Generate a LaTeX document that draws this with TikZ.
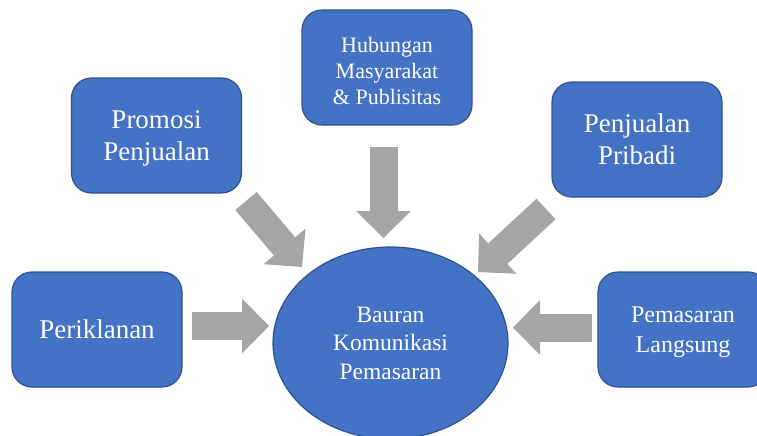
\documentclass[tikz,border=0pt]{standalone}
\usepackage{fontspec}
\setmainfont{Liberation Serif}
\usetikzlibrary{shapes.geometric,arrows.meta}
\definecolor{boxblue}{HTML}{4472C4}
\definecolor{boxedge}{HTML}{2F528F}
\definecolor{flowgray}{HTML}{A5A5A5}

\begin{document}
\begin{tikzpicture}[x=1pt, y=-1pt,
                    tool/.style={draw=boxedge, line width=1.2pt, fill=boxblue, text=white, rounded corners=20pt, minimum width=170pt, minimum height=115pt, align=center, inner sep=0pt, text depth=0pt},
                    core/.style={ellipse, draw=boxedge, line width=1.2pt, fill=boxblue, text=white, minimum width=235pt, minimum height=192pt, align=center, inner sep=0pt},
                    flow/.style={draw=flowgray, line width=28pt, -{Triangle[length=27pt, width=55pt, line width=0pt]}},
                ]
                \useasboundingbox (0,0) rectangle (757,436);
                %Nodes
                \node[core, font=\fontsize{23.5}{28.5}\selectfont] (bauran)   at (390.5,343) {Bauran\\Komunikasi\\Pemasaran};
                \node[tool, font=\fontsize{27}{32}\selectfont]     (iklan)    at (97,329.5)  {Periklanan};
                \node[tool, font=\fontsize{27}{32}\selectfont]     (promosi)  at (156.5,135.5) {Promosi\\Penjualan};
                \node[tool, font=\fontsize{22}{26}\selectfont]     (humas)    at (387,67.5)  {\rule{0pt}{21pt}Hubungan\\Masyarakat\\\& Publisitas};
                \node[tool, font=\fontsize{27}{32}\selectfont]     (pribadi)  at (637,139.5) {Penjualan\\Pribadi};
                \node[tool, font=\fontsize{24}{30}\selectfont]     (langsung) at (683,329.5) {Pemasaran\\Langsung};
                %Arrow ends
                \coordinate (iklan-out)    at (192,326);
                \coordinate (iklan-in)     at (269,326);
                \coordinate (promosi-out)  at (246,201);
                \coordinate (promosi-in)   at (302,267);
                \coordinate (humas-out)    at (383.5,147);
                \coordinate (humas-in)     at (383.5,238);
                \coordinate (pribadi-out)  at (546,209);
                \coordinate (pribadi-in)   at (478,272);
                \coordinate (langsung-out) at (592,327.5);
                \coordinate (langsung-in)  at (513,327.5);
                %Arrows
                \draw[flow] (iklan-out)    -- (iklan-in);
                \draw[flow] (promosi-out)  -- (promosi-in);
                \draw[flow] (humas-out)    -- (humas-in);
                \draw[flow] (pribadi-out)  -- (pribadi-in);
                \draw[flow] (langsung-out) -- (langsung-in);
            \end{tikzpicture}
\end{document}
